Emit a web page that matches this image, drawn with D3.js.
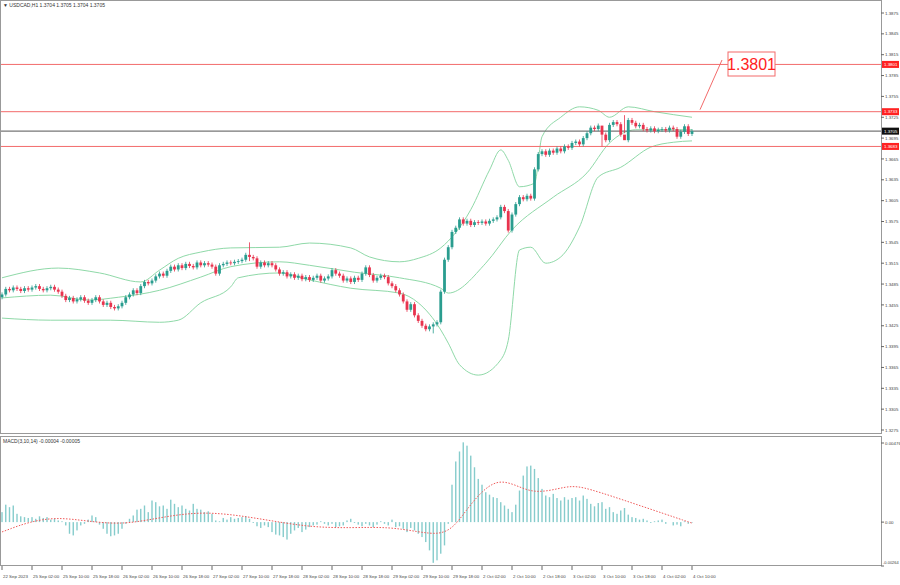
<!DOCTYPE html>
<html>
<head>
<meta charset="utf-8">
<script src="https://cdn.jsdelivr.net/npm/d3@7"></script>
<style>
  body { margin: 0; background: #fff; }
  text { font-family: "Liberation Sans", sans-serif; }
</style>
</head>
<body>
<div id="chart"></div>
<script>
// close prices, one per H1 bar (open = previous close)
const closes = [
  1.3470,1.3478,1.3476,1.3480,1.3478,1.3475,1.3479,1.3477,
  1.3480,1.3482,1.3478,1.3476,1.3479,1.3481,1.3477,1.3474,
  1.3468,1.3462,1.3465,1.3460,1.3463,1.3466,1.3461,1.3458,
  1.3462,1.3466,1.3460,1.3455,1.3458,1.3452,1.3450,1.3453,
  1.3458,1.3466,1.3470,1.3476,1.3472,1.3482,1.3488,1.3486,
  1.3490,1.3496,1.3500,1.3497,1.3504,1.3510,1.3506,1.3512,
  1.3508,1.3514,1.3511,1.3509,1.3516,1.3512,1.3515,1.3513,
  1.3510,1.3500,1.3512,1.3514,1.3516,1.3515,1.3517,1.3518,
  1.3520,1.3527,1.3524,1.3522,1.3510,1.3516,1.3512,1.3515,
  1.3512,1.3506,1.3500,1.3502,1.3496,1.3499,1.3494,1.3497,
  1.3492,1.3495,1.3491,1.3494,1.3497,1.3490,1.3493,1.3496,
  1.3505,1.3500,1.3497,1.3490,1.3493,1.3488,1.3494,1.3491,
  1.3500,1.3509,1.3498,1.3490,1.3494,1.3497,1.3495,1.3486,
  1.3482,1.3476,1.3470,1.3460,1.3448,1.3456,1.3440,1.3432,
  1.3425,1.3420,1.3424,1.3427,1.3430,1.3474,1.3520,1.3538,
  1.3560,1.3566,1.3578,1.3572,1.3576,1.3570,1.3574,1.3573,
  1.3575,1.3572,1.3576,1.3578,1.3581,1.3596,1.3590,1.3562,
  1.3585,1.3600,1.3610,1.3607,1.3612,1.3608,1.3650,1.3672,
  1.3676,1.3671,1.3677,1.3674,1.3680,1.3676,1.3683,1.3681,
  1.3688,1.3690,1.3686,1.3695,1.3702,1.3710,1.3708,1.3713,
  1.3700,1.3692,1.3714,1.3718,1.3715,1.3700,1.3692,1.3721,
  1.3717,1.3712,1.3714,1.3708,1.3706,1.3709,1.3705,1.3707,
  1.3708,1.3706,1.3710,1.3708,1.3697,1.3704,1.3712,1.3701,
  1.3705
];
const firstOpen = 1.3466;
// a few long wicks [bar, high, low]
const longWicks = [[66, 1.3545, 1.3518], [115, 1.3430, 1.3414], [160, 1.3712, 1.3683], [166, 1.3728, 1.3702]];

// Bollinger bands, read at sample bars [bar, value]
const bandUpper = [[0,1.3494],[15,1.3508],[26,1.3501],[37,1.3488],[42,1.3505],[47,1.3522],[53,1.3531],[61,1.3537],[74,1.3538],[82,1.3544],[93,1.3537],[98,1.3524],[106,1.3517],[111,1.3522],[117,1.3537],[125,1.3592],[130,1.3649],[133,1.3678],[135,1.3663],[138,1.3625],[142,1.3630],[144,1.3697],[149,1.3725],[154,1.3740],[159,1.3735],[162,1.3725],[167,1.3740],[174,1.3733],[184,1.3725]];
const bandMiddle = [[0,1.3465],[13,1.3469],[23,1.3462],[31,1.3466],[42,1.3476],[53,1.3495],[61,1.3510],[74,1.3517],[82,1.3512],[94,1.3502],[106,1.3494],[117,1.3479],[119,1.3472],[129,1.3515],[136,1.3563],[147,1.3610],[156,1.3645],[162,1.3688],[169,1.3707],[184,1.3707]];
const bandLower = [[0,1.3436],[13,1.3433],[29,1.3433],[42,1.3430],[47,1.3433],[53,1.3458],[61,1.3481],[63,1.3494],[74,1.3501],[82,1.3491],[93,1.3479],[106,1.3472],[111,1.3458],[117,1.3419],[119,1.3400],[122,1.3369],[127,1.3354],[133,1.3376],[135,1.3404],[138,1.3534],[141,1.3538],[145,1.3515],[149,1.3524],[154,1.3567],[159,1.3639],[165,1.3653],[173,1.3682],[179,1.3689],[184,1.3691]];

// MACD histogram, units of 0.00001
const macdHist = [
  60,105,90,100,50,35,30,25, 30,20,35,25,30,15,20,10,
  5,-20,-70,-80,-50,-20,-10,15, 40,30,-15,-40,-70,-85,-80,-70,
  -40,-10,20,40,75,80,100,60, 130,120,95,100,80,135,110,90,
  100,80,70,110,80,75,60,65, 50,10,5,25,15,30,20,25,
  30,35,20,-5,-25,-35,-20,-30, -60,-75,-80,-90,-105,-70,-50,-35,
  -60,-45,-30,-20,-15,5,-10,-20, -10,-30,-25,-20,10,20,-5,-15,
  -25,-10,-20,-30,-15,5,-10,-20, 15,-30,-25,-40,-60,-35,-50,-70,
  -90,-120,-170,-245,-230,-190,-140,-10, 225,365,425,480,460,400,330,260,
  225,180,165,150,145,120,100,80, 60,105,190,280,335,340,320,265,
  200,160,150,170,145,130,150,135, 145,150,130,160,140,110,95,115,
  120,80,90,60,50,70,85,45, 30,25,15,20,10,-5,5,10,
  15,-10,0,-20,-15,-25,5,-10, -4
];
const macdSignal = [[0,-59],[14,59],[32,-49],[53,108],[83,-59],[104,-10],[118,-108],[123,49],[132,306],[141,151],[151,225],[156,206],[169,108],[184,-6]];

const timeLabels = ["22 Sep 2023","25 Sep 02:00","25 Sep 10:00","25 Sep 18:00","26 Sep 02:00","26 Sep 10:00","26 Sep 18:00","27 Sep 02:00","27 Sep 10:00","27 Sep 18:00","28 Sep 02:00","28 Sep 10:00","28 Sep 18:00","29 Sep 02:00","29 Sep 10:00","29 Sep 18:00","2 Oct 02:00","2 Oct 10:00","2 Oct 18:00","3 Oct 02:00","3 Oct 10:00","3 Oct 18:00","4 Oct 02:00","4 Oct 10:00"];
const levels = [1.3801, 1.3733, 1.3683];
const lastPrice = 1.3705;
const priceTicks = d3.range(1.3275, 1.38751, 0.003);
const macdTicks = [0.00476, 0, -0.00264];

const W = 900, H = 585, axisX = 881;
const svg = d3.select("#chart").append("svg").attr("width", W).attr("height", H);

const x = d3.scaleLinear().domain([0, 184]).range([2, 692]);
const y = d3.scaleLinear().domain([1.3275, 1.3875]).range([430, 13]);
const ym = d3.scaleLinear().domain([-0.00264, 0.00476]).range([566, 443]);

// frames
svg.append("rect").attr("x", 0.5).attr("y", 0.5).attr("width", axisX).attr("height", 433).attr("fill", "none").attr("stroke", "#999");
svg.append("rect").attr("x", 0.5).attr("y", 436.5).attr("width", axisX).attr("height", 129).attr("fill", "none").attr("stroke", "#999");

// title
svg.append("text").attr("x", 3).attr("y", 7).attr("font-size", 5).attr("fill", "#333")
  .text("\u25BC USDCAD,H1  1.3704 1.3705 1.3704 1.3705");
svg.append("text").attr("x", 3).attr("y", 443).attr("font-size", 5).attr("fill", "#333")
  .text("MACD(3,10,14) -0.00004 -0.00005");

// price axis
const pa = svg.append("g").attr("font-size", 4.4).attr("fill", "#444");
priceTicks.forEach(t => {
  pa.append("line").attr("x1", axisX).attr("x2", axisX + 3).attr("y1", y(t)).attr("y2", y(t)).attr("stroke", "#666");
  pa.append("text").attr("x", axisX + 4).attr("y", y(t) + 1.6).text(t.toFixed(4));
});
macdTicks.forEach(t => {
  pa.append("line").attr("x1", axisX).attr("x2", axisX + 3).attr("y1", ym(t)).attr("y2", ym(t)).attr("stroke", "#666");
  pa.append("text").attr("x", axisX + (t < 0 ? 2 : 4)).attr("y", Math.min(ym(t) + 1.6, 563.5))
    .attr("font-size", t < 0 ? 4 : 4.4).text(t === 0 ? "0.00" : t.toFixed(5));
});

// time axis
const ta = svg.append("g").attr("font-size", 4.4).attr("fill", "#444");
timeLabels.forEach((l, k) => {
  const xx = x(k * 8);
  ta.append("line").attr("x1", xx).attr("x2", xx).attr("y1", 566).attr("y2", 570).attr("stroke", "#666");
  ta.append("text").attr("x", xx + 1).attr("y", 578).text(l);
});

// bands
const band = d3.line().x(d => x(d[0])).y(d => y(d[1])).curve(d3.curveMonotoneX);
[bandUpper, bandMiddle, bandLower].forEach(b => {
  svg.append("path").attr("d", band(b)).attr("fill", "none").attr("stroke", "#8fd9a8").attr("stroke-width", 1);
});

// levels
levels.forEach(l => {
  svg.append("line").attr("x1", 1).attr("x2", axisX).attr("y1", y(l)).attr("y2", y(l)).attr("stroke", "#f36b6b").attr("stroke-width", 1);
  svg.append("rect").attr("x", axisX + 1).attr("y", y(l) - 3.5).attr("width", 17).attr("height", 7).attr("fill", "#f22");
  svg.append("text").attr("x", axisX + 3).attr("y", y(l) + 1.6).attr("font-size", 4.4).attr("fill", "#fff").text(l.toFixed(4));
});
svg.append("line").attr("x1", 1).attr("x2", axisX).attr("y1", y(lastPrice)).attr("y2", y(lastPrice)).attr("stroke", "#777").attr("stroke-width", 1.2);
svg.append("rect").attr("x", axisX + 1).attr("y", y(lastPrice) - 3.5).attr("width", 17).attr("height", 7).attr("fill", "#111");
svg.append("text").attr("x", axisX + 3).attr("y", y(lastPrice) + 1.6).attr("font-size", 4.4).attr("fill", "#fff").text(lastPrice.toFixed(4));

// candles
const candles = closes.map((c, i) => {
  const o = i === 0 ? firstOpen : closes[i - 1];
  let hi = Math.max(o, c) + 0.0003, lo = Math.min(o, c) - 0.0003;
  const w = longWicks.find(d => d[0] === i);
  if (w) { hi = w[1]; lo = w[2]; }
  return {i, o, c, hi, lo};
});
const cg = svg.append("g");
cg.selectAll("line").data(candles).join("line")
  .attr("x1", d => x(d.i)).attr("x2", d => x(d.i))
  .attr("y1", d => y(d.hi)).attr("y2", d => y(d.lo))
  .attr("stroke", d => d.c >= d.o ? "#2a9d8f" : "#e8344e").attr("stroke-width", 0.8);
cg.selectAll("rect").data(candles).join("rect")
  .attr("x", d => x(d.i) - 1.4).attr("width", 2.8)
  .attr("y", d => y(Math.max(d.o, d.c)))
  .attr("height", d => Math.max(0.8, Math.abs(y(d.o) - y(d.c))))
  .attr("fill", d => d.c >= d.o ? "#2a9d8f" : "#e8344e");

// callout
const cx = 728, cy = 52;
svg.append("line").attr("x1", x(184) + 8).attr("y1", y(1.3733) - 2).attr("x2", cx - 6).attr("y2", cy + 8)
  .attr("stroke", "#f36b6b").attr("stroke-width", 1);
svg.append("rect").attr("x", cx).attr("y", cy).attr("width", 47).attr("height", 24).attr("fill", "#fff").attr("stroke", "#f36b6b");
svg.append("text").attr("x", cx + 23.5).attr("y", cy + 18).attr("text-anchor", "middle").attr("font-size", 16)
  .attr("fill", "#f22").text("1.3801");

// MACD histogram
svg.append("g").selectAll("rect").data(macdHist).join("rect")
  .attr("x", (d, i) => x(i) - 0.7).attr("width", 1.4)
  .attr("y", d => ym(Math.max(0, d * 1e-5)))
  .attr("height", d => Math.abs(ym(d * 1e-5) - ym(0)))
  .attr("fill", "#86cccc");
const sig = d3.line().x(d => x(d[0])).y(d => ym(d[1] * 1e-5)).curve(d3.curveBasis);
svg.append("path").attr("d", sig(macdSignal)).attr("fill", "none").attr("stroke", "#f05a5a")
  .attr("stroke-width", 1).attr("stroke-dasharray", "1.5,1.5");
</script>
</body>
</html>
